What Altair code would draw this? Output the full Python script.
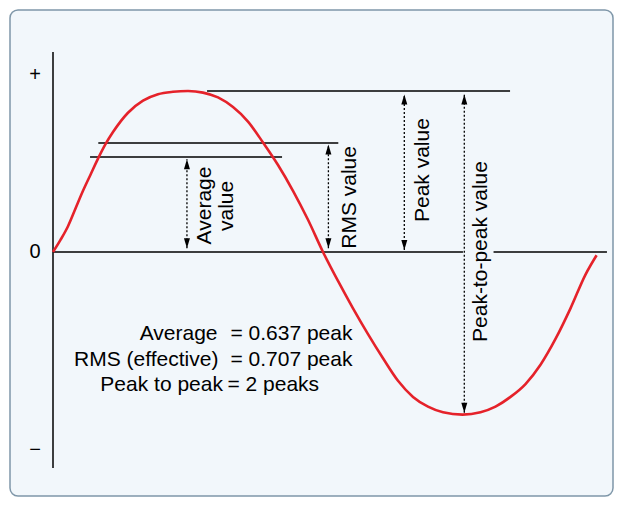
import altair as alt
import pandas as pd

# ---- data (phase in degrees, value as a fraction of the peak) ----
wave_phase = [0, 5, 10, 15, 20, 25, 30, 35, 40, 50, 60, 70, 80, 90, 100, 110, 120, 130,
              140, 150, 160, 170, 180, 190, 200, 210, 220, 230, 240, 250, 260, 273,
              285, 295, 305, 315, 325, 335, 345, 355, 362.4]
wave_value = [0, 0.075, 0.16, 0.27, 0.38, 0.48, 0.58, 0.67, 0.745, 0.865, 0.94, 0.98, 0.995, 1.0,
              0.99, 0.96, 0.90, 0.81, 0.68, 0.54, 0.38, 0.20, 0.0, -0.18, -0.35, -0.51,
              -0.66, -0.80, -0.90, -0.96, -0.995, -1.01, -0.995, -0.96, -0.90, -0.82,
              -0.70, -0.54, -0.35, -0.14, -0.02]

# reference levels (horizontal lines)
level_value = [1.0, 0.677, 0.59, 0.0, 0.0]
level_from = [102.7, 30.2, 24.7, 0.0, 293.7]
level_to = [304.7, 190.2, 152.7, 273.3, 369.3]

# dotted measuring arrows
arrow_phase = [89.3, 183.6, 234.2, 274.2]
arrow_top = [0.576, 0.668, 0.978, 0.978]
arrow_bottom = [0.023, 0.023, 0.012, -0.998]

# rotated labels
label_text = ["Average", "value", "RMS value", "Peak value", "Peak-to-peak value"]
label_phase = [105, 120, 201.7, 250.7, 289]
label_value = [0.289, 0.286, 0.339, 0.509, 0.003]

# summary text
stat_left = ["Average", "RMS (effective)", "Peak to peak"]
stat_right = ["= 0.637 peak", "= 0.707 peak", "= 2 peaks"]
stat_left_phase = [109.7, 110.3, 113.3]
stat_right_phase = [118.3, 118.3, 116.3]
stat_value = [-0.547, -0.708, -0.863]

# axis labels
axis_text = ["+", "0", "\u2212"]
axis_phase = [-12, -12, -12]
axis_value = [1.099, 0.0, -1.23]
axis_top, axis_bottom = 1.242, -1.342

FONT = "Liberation Sans"
XS = alt.Scale(domain=[-28.667, 373.333], nice=False, zero=False)
YS = alt.Scale(domain=[-1.51553, 1.50311], nice=False, zero=False)

def X(f="x"):
    return alt.X(f, type="quantitative", scale=XS, axis=None)

def Y(f="y"):
    return alt.Y(f, type="quantitative", scale=YS, axis=None)

wave = pd.DataFrame({"x": wave_phase, "y": wave_value})
levels = pd.DataFrame({"x": level_from, "x2": level_to, "y": level_value})
arrows = pd.DataFrame({"x": arrow_phase, "y": arrow_bottom, "y2": arrow_top})
tops = pd.DataFrame({"x": arrow_phase, "y": arrow_top})
bottoms = pd.DataFrame({"x": arrow_phase, "y": arrow_bottom})
labels = pd.DataFrame({"x": label_phase, "y": label_value, "t": label_text})
sl = pd.DataFrame({"x": stat_left_phase, "y": stat_value, "t": stat_left})
sr = pd.DataFrame({"x": stat_right_phase, "y": stat_value, "t": stat_right})
ax = pd.DataFrame({"x": axis_phase, "y": axis_value, "t": axis_text})
axl = pd.DataFrame({"x": [0], "y": [axis_bottom], "y2": [axis_top]})

axis_line = alt.Chart(axl).mark_rule(color="black", strokeWidth=1.5).encode(
    x=X(), y=Y(), y2="y2")
level_lines = alt.Chart(levels).mark_rule(color="black", strokeWidth=1.3).encode(
    x=X(), x2="x2", y=Y())
arrow_lines = alt.Chart(arrows).mark_rule(color="black", strokeWidth=1.3, strokeDash=[2, 2]).encode(
    x=X(), y=Y(), y2="y2")
up_heads = alt.Chart(tops).mark_point(
    shape="M0,0L0.6,2L-0.6,2Z", filled=True, color="black", opacity=1, size=100, strokeWidth=0
).encode(x=X(), y=Y())
down_heads = alt.Chart(bottoms).mark_point(
    shape="M0,0L0.6,-2L-0.6,-2Z", filled=True, color="black", opacity=1, size=100, strokeWidth=0
).encode(x=X(), y=Y())
curve = alt.Chart(wave).mark_line(color="#E5222A", strokeWidth=2.6, interpolate="monotone").encode(
    x=X(), y=Y(), order="x:Q")
rot_labels = alt.Chart(labels).mark_text(
    angle=270, align="center", baseline="alphabetic", font=FONT, fontSize=21, color="black"
).encode(x=X(), y=Y(), text="t:N")
stat_l = alt.Chart(sl).mark_text(
    align="right", baseline="alphabetic", font=FONT, fontSize=21, color="black"
).encode(x=X(), y=Y(), text="t:N")
stat_r = alt.Chart(sr).mark_text(
    align="left", baseline="alphabetic", font=FONT, fontSize=21, color="black"
).encode(x=X(), y=Y(), text="t:N")
axis_labels = alt.Chart(ax).mark_text(
    align="center", baseline="middle", font=FONT, fontSize=20, color="black"
).encode(x=X(), y=Y(), text="t:N")

chart = alt.layer(
    axis_line, level_lines, arrow_lines, up_heads, down_heads, curve,
    rot_labels, stat_l, stat_r, axis_labels
).properties(
    width=603, height=486, padding=2, background="white",
    autosize=alt.AutoSizeParams(type="none")
).configure_view(
    fill="#F2F7FB", stroke="#7F97A9", strokeWidth=1.5, cornerRadius=8
)

chart.save("out.html", embed_options={"renderer": "svg", "actions": False})
